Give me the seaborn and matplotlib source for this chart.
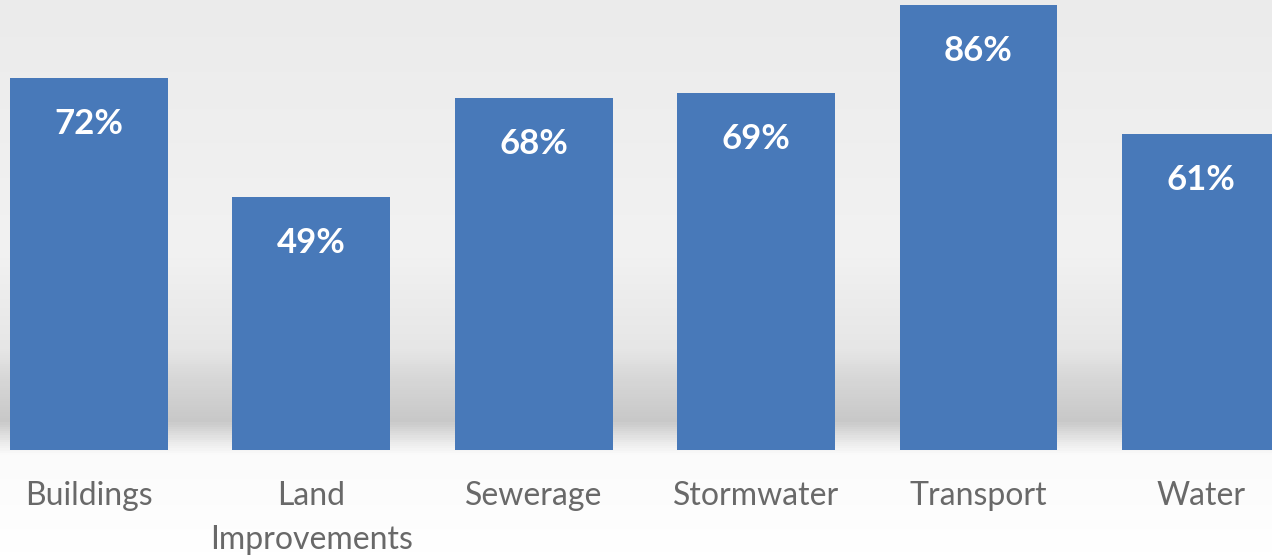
import numpy as np
import pandas as pd
import matplotlib
matplotlib.use('Agg')
import matplotlib.pyplot as plt
import matplotlib.colors as mcolors
import seaborn as sns

# chart data
categories = ["Buildings", "Land Improvements", "Sewerage", "Stormwater", "Transport", "Water"]
tick_labels = ["Buildings", "Land\nImprovements", "Sewerage", "Stormwater", "Transport", "Water"]
values = [72, 49, 68, 69, 86, 61]

sns.set_theme(style="white")
plt.rcParams['font.family'] = ['Lato', 'DejaVu Sans']

df = pd.DataFrame({"category": categories, "value": values})

fig = plt.figure(figsize=(12.72, 5.55), dpi=100)

# soft grey backdrop with a shadow band behind the bar bases
bg = fig.add_axes([0, 0, 1, 1], zorder=-1)
stops = [(0.0, "#ebebeb"), (0.45, "#f2f2f2"), (0.63, "#e6e6e6"),
         (0.68, "#d8d8d8"), (0.76, "#c8c8c8"), (0.80, "#ececec"),
         (0.82, "#fbfbfb"), (1.0, "#ffffff")]
cmap = mcolors.LinearSegmentedColormap.from_list("bg", stops)
grad = np.linspace(0, 1, 555).reshape(-1, 1)
bg.imshow(grad, aspect="auto", cmap=cmap, extent=[0, 1, 1, 0], vmin=0, vmax=1)
bg.set_xlim(0, 1)
bg.set_ylim(1, 0)
bg.axis("off")

ax = fig.add_axes([0, 105 / 555, 1, 450 / 555])
ax.set_facecolor("none")
sns.barplot(data=df, x="category", y="value", color="#4879b9", saturation=1,
            width=0.71, linewidth=0, ax=ax)

for i, v in enumerate(values):
    ax.annotate(f"{v}%", (i, v), xytext=(0, -46), textcoords="offset pixels",
                ha="center", va="center", color="white", fontsize=25,
                fontweight="bold")

ax.set_xlim(-0.40, 5.32)
ax.set_ylim(0, 87.0)
ax.set_xticks(range(len(categories)))
ax.set_xticklabels(tick_labels, color="#696969", fontsize=23)
for lbl in ax.get_xticklabels():
    lbl.set_linespacing(1.62)
ax.tick_params(axis="x", length=0, pad=22)
ax.set_yticks([])
ax.set_xlabel("")
ax.set_ylabel("")
sns.despine(ax=ax, left=True, bottom=True)

fig.savefig("out.png", dpi=100)
